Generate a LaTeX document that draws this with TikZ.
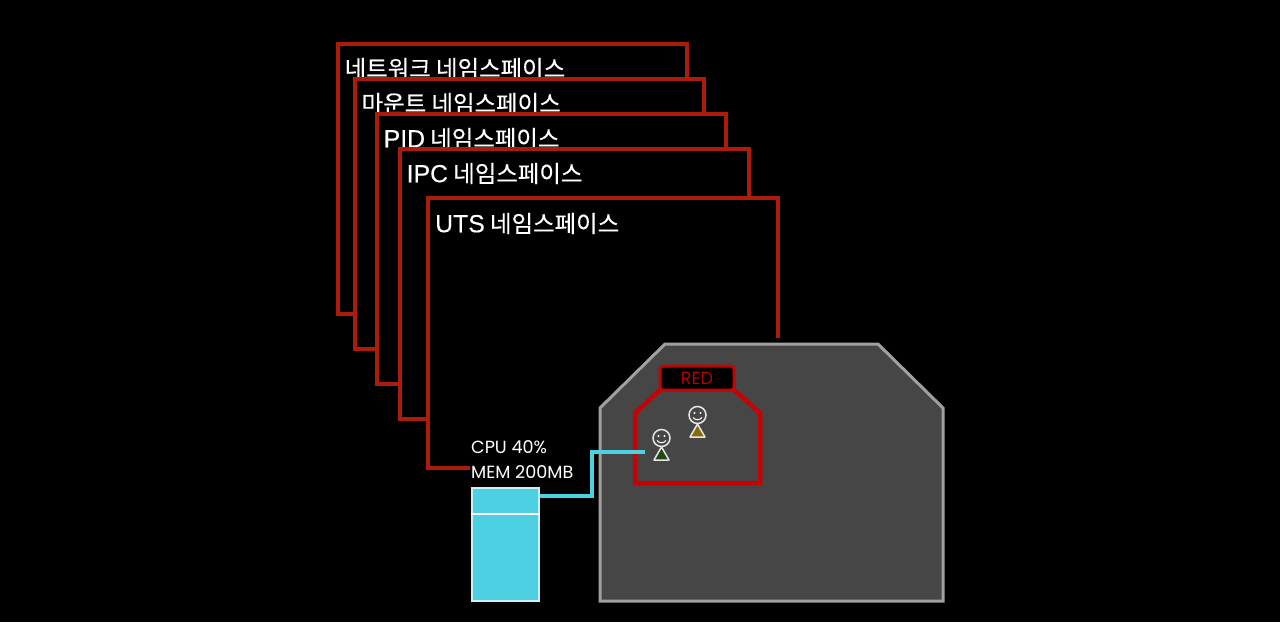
\documentclass[tikz,border=0pt]{standalone}
\usepackage{fontspec}
\setmainfont[FakeBold=0.35]{Noto Sans CJK KR}
\newfontfamily\latnfont[FakeBold=0.25, Scale=1.06]{Liberation Sans}
\newfontfamily\statfont{Poppins}
\newcommand{\latn}[1]{{\latnfont #1}}
\definecolor{nsred}{HTML}{AC1C0A}
\definecolor{grpred}{HTML}{C40404}
\definecolor{hostgray}{HTML}{464646}
\definecolor{hostedge}{HTML}{A0A0A0}
\definecolor{memcyan}{HTML}{4DD0E2}
\definecolor{grn}{HTML}{1F4A12}
\definecolor{ylw}{HTML}{8A6A08}
\tikzset{
	nsframe/.style={draw=nsred, line width=3.3pt, fill=black},
	nslabel/.style={anchor=west, inner sep=0pt, text=white, font=\fontsize{23.4}{25}\selectfont},
	statlabel/.style={anchor=west, inner sep=0pt, text=white, font=\statfont\fontsize{17.6}{20}\selectfont},
	faceline/.style={draw=white!90!black, line width=1.5pt},
}
\begin{document}
\begin{tikzpicture}[x=1pt, y=-1pt, line join=miter]
	\useasboundingbox[fill=black] (0,0) rectangle (1280,622);
	% namespaces, back to front
	\foreach \lft/\tp/\nm/\tx in {338/44/net/네트워크 네임스페이스, 355/79/mnt/마운트 네임스페이스, 377/114/pid/\latn{PID} 네임스페이스, 400/149/ipc/\latn{IPC} 네임스페이스}{
		\draw[nsframe] (\lft,\tp) rectangle ++(349,270);
		\node[nslabel] (\nm) at (\lft+6.5,\tp+24.5) {\tx};
	}
	\fill[black] (428,198) rectangle (778,468);
	\draw[nsframe, fill=none] (778,338) -- (778,198) -- (428,198) -- (428,468) -- (470,468);
	\node[nslabel] (uts) at (435,223.5) {\latn{UTS} 네임스페이스};
	% host
	\draw[draw=hostedge, line width=3pt, fill=hostgray] (600,601) -- (600,408) -- (665,344) -- (878,344) -- (943,408) -- (943,601) -- cycle;
	% group
	\draw[draw=grpred, line width=4.5pt] (660,390) -- (635,413) -- (635,483) -- (760,483) -- (760,413) -- (734,390);
	\node[draw=grpred, line width=3pt, fill=black, rounded corners=3pt, minimum width=74pt, minimum height=24pt, inner sep=0pt, text=grpred!90!black, font=\statfont\fontsize{17.6}{20}\selectfont] (red) at (697,378) {RED};
	% people
	\foreach \px/\py/\pc in {661.5/438/grn, 697.5/415/ylw}{
		\draw[faceline, fill=\pc, line join=round] (\px,\py+9) -- (\px+7.5,\py+22) -- (\px-7.5,\py+22) -- cycle;
		\draw[faceline, fill=hostgray] (\px,\py) circle (8.5pt);
		\fill[white] (\px-3,\py-2) circle (1.2pt) (\px+3,\py-2) circle (1.2pt);
		\draw[white, line width=1pt] (\px-4.5,\py+2.5) .. controls (\px-2,\py+5.5) and (\px+2,\py+5.5) .. (\px+4.5,\py+2.5);
	}
	% memory
	\node[statlabel] (cpu) at (471,447) {CPU 40\%};
	\node[statlabel] (mem) at (471,472) {MEM 200MB};
	\node[draw=white!70!memcyan, line width=1.3pt, fill=memcyan, minimum width=67pt, minimum height=113pt, inner sep=0pt] (box) at (505.5,544.5) {};
	\coordinate (sep1) at (box.west |- 0,514);
	\coordinate (sep2) at (box.east |- 0,514);
	\draw[white, line width=1.5pt] (sep1) -- (sep2);
	\coordinate (lnk) at (645,452);
	\draw[memcyan, line width=4pt] (box.east |- 0,496) -- (592,496) -- (592,452) -- (lnk);
\end{tikzpicture}
\end{document}
